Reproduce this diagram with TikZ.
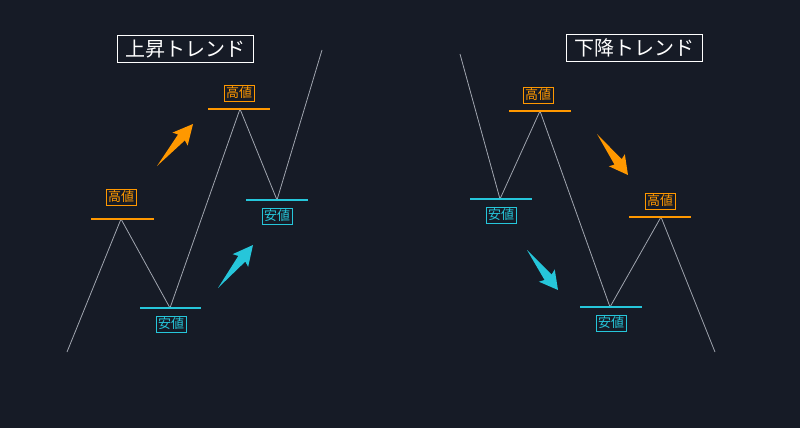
\documentclass[tikz,border=0pt]{standalone}
\usepackage{fontspec}
\newfontfamily\jpfont{Noto Sans CJK JP}
\usetikzlibrary{calc}
\definecolor{bg}{RGB}{22,27,38}
\definecolor{takane}{RGB}{255,152,0}
\definecolor{yasune}{RGB}{38,198,218}
\definecolor{price}{RGB}{160,165,175}

\tikzset{
  pline/.style={price, line width=0.8pt, line join=miter},
  lvl/.style={line width=1.1pt},
  lbl/.style={draw, line width=0.9pt, inner xsep=2pt, inner ysep=2pt, font=\jpfont\fontsize{13}{13}\selectfont},
  ttl/.style={draw=white, line width=0.9pt, text=white, inner xsep=8pt, inner ysep=4.5pt, font=\jpfont\fontsize{20}{20}\selectfont},
}
% tapered arrow from #2 to #3
\newcommand{\trendarrow}[3]{%
  \fill[#1] (#2) -- ($(#2)!0.68!(#3)!4.5pt!90:(#3)$) -- ($(#2)!0.64!(#3)!10pt!90:(#3)$) -- (#3)
    -- ($(#2)!0.64!(#3)!10pt!-90:(#3)$) -- ($(#2)!0.68!(#3)!4.5pt!-90:(#3)$) -- cycle;}

\begin{document}
\begin{tikzpicture}[x=1pt, y=-1pt]
    \fill[bg] (0,0) rectangle (800,428);
    \useasboundingbox (0,0) rectangle (800,428);

    % up trend
    \node[ttl] (upt) at (185.5,49) {上昇トレンド};
    \coordinate (u0) at (67,352);
    \coordinate (u1) at (121,219);
    \coordinate (u2) at (170,308);
    \coordinate (u3) at (240,109);
    \coordinate (u4) at (277,200);
    \coordinate (u5) at (322,50);
    \draw[pline] (u0) -- (u1) -- (u2) -- (u3) -- (u4) -- (u5);
    \draw[lvl, takane] ([xshift=-30]u1) -- ([xshift=33]u1);
    \draw[lvl, yasune] ([xshift=-30]u2) -- ([xshift=31]u2);
    \draw[lvl, takane] ([xshift=-32]u3) -- ([xshift=30]u3);
    \draw[lvl, yasune] ([xshift=-31]u4) -- ([xshift=31]u4);
    \node[lbl, takane] (uh1) at (121,197) {高値};
    \node[lbl, yasune] (ul1) at (171,324) {安値};
    \node[lbl, takane] (uh2) at (239,93) {高値};
    \node[lbl, yasune] (ul2) at (277,216) {安値};
    \coordinate (ua1) at (157,166); \coordinate (ub1) at (193,124);
    \coordinate (ua2) at (218,288); \coordinate (ub2) at (253,245);
    \trendarrow{takane}{ua1}{ub1}
    \trendarrow{yasune}{ua2}{ub2}

    % down trend
    \node[ttl] (dnt) at (634,48) {下降トレンド};
    \coordinate (d0) at (460,54);
    \coordinate (d1) at (500,199);
    \coordinate (d2) at (540,111);
    \coordinate (d3) at (610,307);
    \coordinate (d4) at (661,217);
    \coordinate (d5) at (715,352);
    \draw[pline] (d0) -- (d1) -- (d2) -- (d3) -- (d4) -- (d5);
    \draw[lvl, yasune] ([xshift=-30]d1) -- ([xshift=32]d1);
    \draw[lvl, takane] ([xshift=-31]d2) -- ([xshift=31]d2);
    \draw[lvl, yasune] ([xshift=-30]d3) -- ([xshift=32]d3);
    \draw[lvl, takane] ([xshift=-32]d4) -- ([xshift=30]d4);
    \node[lbl, takane] (dh1) at (538,95) {高値};
    \node[lbl, yasune] (dl1) at (501,215) {安値};
    \node[lbl, yasune] (dl2) at (611,323) {安値};
    \node[lbl, takane] (dh2) at (660,201) {高値};
    \coordinate (da1) at (597,134); \coordinate (db1) at (628,175);
    \coordinate (da2) at (527,250); \coordinate (db2) at (558,290);
    \trendarrow{takane}{da1}{db1}
    \trendarrow{yasune}{da2}{db2}
\end{tikzpicture}
\end{document}
